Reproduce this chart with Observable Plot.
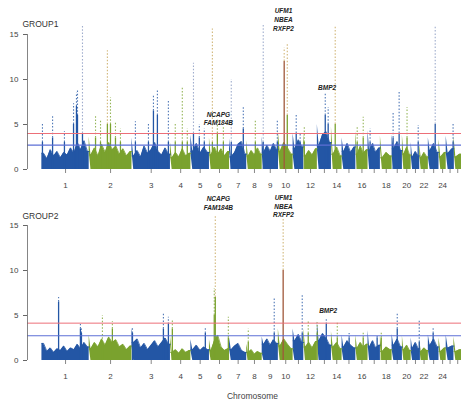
<!DOCTYPE html>
<html><head><meta charset="utf-8">
<script src="https://cdn.jsdelivr.net/npm/d3@7"></script>
<script src="https://cdn.jsdelivr.net/npm/@observablehq/plot@0.6"></script>
<style>
body{margin:0;background:#fff;}
#wrap{position:relative;width:461px;height:404px;font-family:"Liberation Sans",Arial,sans-serif;}
#wrap svg{position:absolute;left:0;overflow:visible;background:transparent;}
</style></head><body><div id="wrap"></div>
<script>
// ---------- data ----------
const chromosomes = d3.range(1, 27);
const chromLengthMb = [275,249,224,119,108,117,100,90,94,86,62,79,82,62,80,71,72,68,60,51,50,50,62,42,45,44];
const labeledChromosomes = [1,2,3,4,5,6,7,8,9,10,12,14,16,18,20,22,24];
const panelTitles = ["GROUP1", "GROUP2"];
const xAxisTitle = "Chromosome";
const yTicks = [0, 5, 10, 15];

// background band of -log10(p), read along each chromosome
const bandGroup1 = [
  [1.8,1.2,2.2,1.5,2.0,1.3,1.9,1.6,2.4,1.8,3.0,2.2,3.2,2.0],
  [1.6,2.4,1.5,2.8,1.9,3.0,2.2,2.6,1.7,2.3,1.5,2.0],
  [1.5,2.1,1.4,2.6,1.8,2.2,3.0,2.0,1.6,2.4,1.7],
  [1.3,1.9,1.4,2.3,1.5,1.8],
  [2.0,2.9,1.8,2.5,1.9],
  [1.6,2.5,1.7,2.3,1.5,2.0],
  [1.4,1.9,2.8,3.1,1.7],
  [1.5,2.1,1.6,2.4,1.7],
  [1.9,2.7,2.0,2.9,2.2],
  [2.0,3.0,2.4,1.7],
  [2.3,3.3,2.5],
  [1.5,2.1,1.6,2.3],
  [2.7,3.9,4.2,3.0],
  [1.7,2.5,1.5],
  [2.0,2.9,1.9,2.5],
  [1.7,2.6,1.8,2.2],
  [2.1,2.9,1.9,2.4],
  [1.3,1.9,1.5],
  [2.3,3.1,2.1],
  [1.7,2.5,1.6],
  [1.4,2.0,1.5],
  [1.3,1.9,1.4],
  [2.1,2.9,1.9],
  [1.4,1.9],
  [1.8,2.3],
  [1.4,1.7]
];
const bandGroup2 = [
  [1.9,1.0,1.4,0.9,1.3,1.1,1.6,1.0,1.4,1.2,1.8,1.3,2.0,1.5],
  [1.3,2.0,1.5,2.4,1.7,2.6,2.0,2.3,1.5,1.8,1.2,1.6],
  [2.0,2.4,1.4,1.9,1.2,1.7,2.2,1.5,2.0,2.5,1.8],
  [0.9,1.2,0.8,1.3,0.9,1.1],
  [1.2,1.7,1.1,1.5,1.2],
  [1.1,2.2,2.8,1.5,1.1,1.3],
  [1.2,1.6,1.9,1.1,0.9],
  [0.9,1.2,0.7,1.0,0.8],
  [1.8,2.4,1.7,2.3,1.9],
  [1.6,2.4,1.8,1.3],
  [2.2,2.9,2.0],
  [1.5,2.0,1.4,2.1],
  [2.2,3.0,2.5,1.7],
  [1.5,2.0,1.3],
  [1.5,2.2,1.7,1.4],
  [1.4,2.0,1.5,1.8],
  [1.5,2.2,1.4,1.7],
  [1.0,1.5,1.2],
  [1.7,2.4,1.5],
  [1.2,1.7,1.1],
  [1.4,2.0,1.3],
  [1.0,1.4,1.1],
  [1.7,2.4,1.5],
  [1.0,1.4],
  [1.4,1.6],
  [1.0,1.2]
];

// peaks: [chromosome, position in chromosome (Mb), top of dense part, top of highest SNP]
const spikesGroup1 = [
  [1,3,3,5.2],[1,62,3.5,6],[1,131,3,4.2],[1,184,5,7.3],[1,201,7,8.5],[1,207,6,8.8],[1,236,4,16],
  [2,37,3.5,6],[2,66,3,5.5],[2,106,5,13.2],[2,124,5,8],[2,153,3.5,5.3],[2,182,3,4.5],
  [3,20,3,5.3],[3,96,3,5],[3,125,6.5,8.2],[3,148,6,8.8],[3,212,3,7.7],
  [4,28,3,5.2],[4,69,3,9.1],[4,98,3,4.5],
  [5,15,4,11.8],[5,49,3.5,5],[5,78,3,4.5],
  [6,17,3,15.6],[6,46,4,5.5],[6,81,3,4.7],
  [7,10,3,10],[7,80,4.5,6.9],
  [8,50,3,5.4],
  [9,6,3,16.2],[9,88,3,5.4],
  [10,34,12,13.5],[10,52,6,14],
  [11,18,4,6],[11,41,3,4],
  [12,3,3,4.7],
  [13,46,6,8.4],[13,63,5,6.9],
  [14,22,5,15.8],
  [16,8,3,4.7],[16,43,3.5,5.8],
  [17,12,3,4.5],
  [19,6,3.5,6.3],[19,41,4,8.6],
  [20,27,3.5,6.9],
  [21,41,3,4.9],
  [23,40,5,16],
  [25,40,3,5.1]
];
const spikesGroup2 = [
  [1,97,6.5,7],[1,224,3.5,4],[1,230,3,3.5],
  [2,77,2,5],[2,135,3.5,4.3],
  [3,3,3,3.7],[3,183,3.5,5.2],[3,212,4,4.8],
  [4,11,3.5,4.4],
  [5,84,3,3.7],
  [6,28,5,8],[6,34,7,16],[6,110,2.5,4.8],
  [8,9,2,3.5],
  [9,70,3,7],
  [10,28,10,15.8],
  [11,53,3,7.2],
  [12,26,3,4.4],[12,78,3,4.2],
  [13,52,4,4.6],
  [14,34,2.5,4.2],
  [15,41,2.5,3],
  [16,43,2.5,3.1],
  [17,53,2.5,2.8],
  [18,5,2.5,3.1],
  [19,30,3.5,5.2],
  [21,47,2,4.4],
  [23,28,3,3.7]
];

// significance thresholds [upper (red), lower (blue)]
const thresholdsGroup1 = [4.0, 2.7];
const thresholdsGroup2 = [4.15, 2.75];

// gene annotations: [chromosome, position (Mb), -log10(p), label]
const genesGroup1 = [
  [10, 30, 16.7, "UFM1\nNBEA\nRXFP2"],
  [6, 52, 5.7, "NCAPG\nFAM184B"],
  [13, 57, 9.2, "BMP2"]
];
const genesGroup2 = [
  [10, 30, 17.2, "UFM1\nNBEA\nRXFP2"],
  [6, 52, 17.5, "NCAPG\nFAM184B"],
  [13, 63, 5.6, "BMP2"]
];

// ---------- derived ----------
const starts = [];
{ let s = 0; for (const L of chromLengthMb) { starts.push(s); s += L; } }
const genomeEnd = starts[starts.length - 1] + chromLengthMb[chromLengthMb.length - 1];
const centers = chromosomes.map((c, i) => starts[i] + chromLengthMb[i] / 2);
const labelMap = new Map(centers.map((x, i) => [x, labeledChromosomes.includes(chromosomes[i]) ? String(chromosomes[i]) : ""]));
const xPadMb = 84;

const BLUE = "#2356a5", GREEN = "#7aa22e";
const TALL_BLUE = "#8799c0", TALL_GREEN = "#c6a456";
const chromColor = c => (c % 2 === 1 ? BLUE : GREEN);
const tallColor = c => (c % 2 === 1 ? TALL_BLUE : TALL_GREEN);

function bandRows(band) {
  const rows = [];
  band.forEach((vals, i) => {
    const c = chromosomes[i], s = starts[i], L = chromLengthMb[i], n = vals.length;
    rows.push({c, x: s, y: vals[0]});
    vals.forEach((v, k) => rows.push({c, x: s + L * (k + 0.5) / n, y: v}));
    rows.push({c, x: s + L, y: vals[n - 1]});
  });
  return rows;
}
function spikeRows(sp) {
  return sp.map(([c, off, dense, max]) => ({c, x: starts[c - 1] + off, dense, max}));
}
function geneRows(g) {
  return g.map(([c, off, y, t]) => ({x: starts[c - 1] + off, y, t}));
}

function panel({title, band, spikes, thresholds, genes, height, marginTop, marginBottom, titleDy, showXTitle}) {
  const sp = spikeRows(spikes);
  const br = bandRows(band);
  return Plot.plot({
    width: 461, height, marginLeft: 27, marginRight: 0, marginTop, marginBottom,
    style: {overflow: "visible", background: "transparent", fontFamily: "'Liberation Sans', Arial, sans-serif"},
    x: {domain: [-xPadMb, genomeEnd], label: null},
    y: {domain: [0, 15], label: null},
    marks: [
      Plot.areaY(br, {x: "x", y: "y", z: "c", fill: d => chromColor(d.c), curve: "linear"}),
      Plot.lineY(br, {x: "x", y: "y", z: "c", stroke: d => chromColor(d.c), strokeWidth: 0.8, curve: "linear"}),
      Plot.ruleX(sp, {x: "x", y1: "dense", y2: "max", stroke: d => (d.max >= 10 ? tallColor(d.c) : chromColor(d.c)), strokeWidth: 1.1, strokeDasharray: "1.5,1.8", strokeOpacity: 0.8}),
      Plot.ruleX(sp, {x: "x", y1: 0, y2: "dense", stroke: d => (d.max >= 12 && d.dense >= 8 ? "#a0583a" : chromColor(d.c)), strokeWidth: 1.3}),
      Plot.ruleY([thresholds[0]], {stroke: "#ec6f78", strokeWidth: 1}),
      Plot.ruleY([thresholds[1]], {stroke: "#5d6fd6", strokeWidth: 1.2}),
      Plot.ruleX([-xPadMb], {y1: 0, y2: 15, stroke: "#666", strokeWidth: 0.8}),
      Plot.axisY(yTicks, {tickSize: 4, tickPadding: 5, fontSize: 8, color: "#444", stroke: "#666"}),
      Plot.axisX(centers, {tickSize: 4, tickPadding: 9, fontSize: 8, color: "#444", stroke: "#888", tickFormat: d => labelMap.get(d)}),
      Plot.text(geneRows(genes), {x: "x", y: "y", text: "t", fontSize: 6.5, fontWeight: "bold", fontStyle: "italic", lineHeight: 1.35, lineAnchor: "middle", fill: "#222"}),
      Plot.text([title], {frameAnchor: "top-left", dx: -5, dy: titleDy, textAnchor: "start", lineAnchor: "middle", fontSize: 8.5, fill: "#333"}),
      showXTitle ? Plot.text([xAxisTitle], {frameAnchor: "bottom", dy: 36, dx: 8, lineAnchor: "middle", fontSize: 8.5, fill: "#444"}) : null
    ]
  });
}

const wrap = document.getElementById("wrap");
const p1 = panel({title: panelTitles[0], band: bandGroup1, spikes: spikesGroup1, thresholds: thresholdsGroup1, genes: genesGroup1,
  height: 195, marginTop: 34, marginBottom: 26, titleDy: -10, showXTitle: false});
p1.style.top = "0px";
const p2 = panel({title: panelTitles[1], band: bandGroup2, spikes: spikesGroup2, thresholds: thresholdsGroup2, genes: genesGroup2,
  height: 209, marginTop: 30, marginBottom: 44, titleDy: -9, showXTitle: true});
p2.style.top = "195px";
wrap.appendChild(p1);
wrap.appendChild(p2);
</script></body></html>
